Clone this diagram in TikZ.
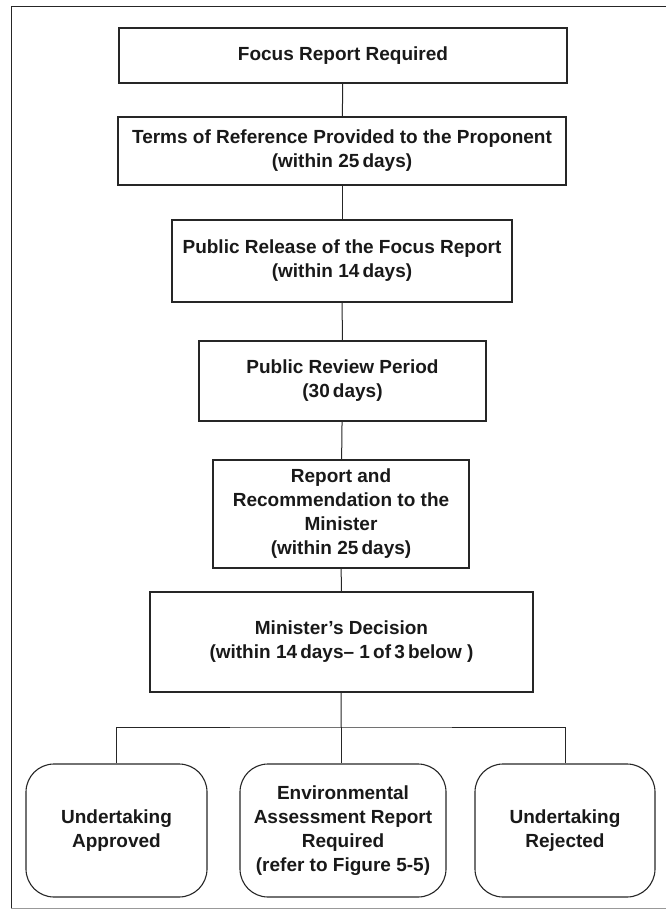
\documentclass[tikz,border=0pt]{standalone}
\usepackage{fontspec}
\setmainfont{Liberation Sans}

\tikzset{
  stage/.style={draw=black!85, line width=1.1pt, rectangle, align=center,
    inner sep=0pt, text=black!90, font=\bfseries\fontsize{19}{24}\selectfont},
  outcome/.style={stage, rounded corners=28pt},
  link/.style={draw=black!85, line width=1pt}
}

\begin{document}
\begin{tikzpicture}[x=1pt, y=-1pt]
    \useasboundingbox (0,0) rectangle (666,910);

    % Cadre
    \draw[black!85, line width=1pt] (666,6) -- (11,6) -- (11,908);
    \draw[black!40, line width=0.8pt] (11,908) -- (666,908);

    % Etapes
    \node[stage, minimum width=448, minimum height=55] (focus) at (343,55.5)
        {Focus Report Required};
    \node[stage, minimum width=448, minimum height=68] (terms) at (342,151)
        {Terms of Reference Provided to the Proponent\\(within 25\,days)};
    \node[stage, minimum width=340, minimum height=82] (release) at (342,261)
        {Public Release of the Focus Report\\(within 14\,days)};
    \node[stage, minimum width=287, minimum height=80] (review) at (342.5,381)
        {Public Review Period\\(30\,days)};
    \node[stage, minimum width=256, minimum height=108] (recommend) at (341,514)
        {Report and\\Recommendation to the\\Minister\\(within 25\,days)};
    \node[stage, minimum width=383, minimum height=100] (decision) at (341.5,642)
        {Minister’s Decision\\(within 14\,days-- 1\,of\,3\,below )};

    % Issues
    \node[outcome, minimum width=181, minimum height=133] (approved) at (116.5,830.5)
        {Undertaking\\Approved};
    \node[outcome, minimum width=206, minimum height=133] (earreq) at (343,830.5)
        {Environmental\\Assessment Report\\Required\\(refer to Figure 5-5)};
    \node[outcome, minimum width=180, minimum height=133] (rejected) at (565,830.5)
        {Undertaking\\Rejected};

    % Liens
    \draw[link] (focus) -- (terms);
    \draw[link] (terms) -- (release);
    \draw[link] (release) -- (review);
    \draw[link] (review) -- (recommend);
    \draw[link] (recommend) -- (decision);
    \coordinate (split) at (341,727);
    \draw[link] (decision) -- (split);
    \draw[link] (approved.north) |- (split) -| (rejected.north);
    \draw[link] (split) -- (split |- earreq.north);
\end{tikzpicture}
\end{document}
